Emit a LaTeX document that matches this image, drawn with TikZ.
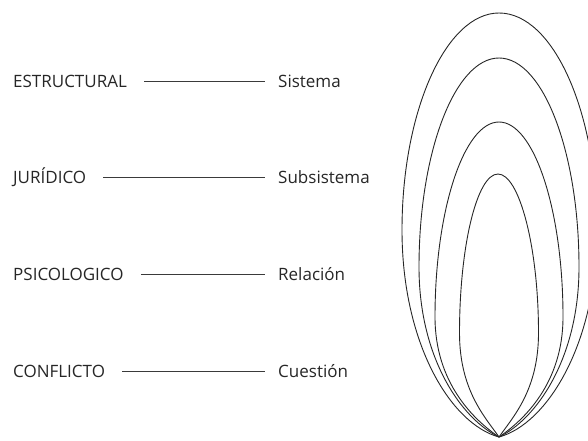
\documentclass[tikz,border=0pt]{standalone}
\usepackage{fontspec}
\setmainfont{Open Sans}
\definecolor{txt}{HTML}{262626}
\definecolor{ln}{HTML}{3a3a3a}
\begin{document}
\begin{tikzpicture}[x=1pt,y=1pt,
  lbl/.style={font=\fontsize{17}{19}\selectfont, text=txt, inner sep=0pt, anchor=west, text height=12.1pt, text depth=0pt},
  conn/.style={draw=ln, line width=0.9pt, shorten <=17pt, shorten >=13pt},
  loopline/.style={draw=black!85, line width=0.9pt}]
\useasboundingbox (0,0) rectangle (588,440);
\clip (0,0) rectangle (588,440);
% labels
\node[lbl] (e1) at (13,359) {ESTRUCTURAL};
\node[lbl] (s1) at (278,359) {Sistema};
\node[lbl] (e2) at (13,263) {JURÍDICO};
\node[lbl] (s2) at (278,263) {Subsistema};
\node[lbl] (e3) at (13,166) {PSICOLOGICO};
\node[lbl] (s3) at (278,166) {Relación};
\node[lbl] (e4) at (13,69) {CONFLICTO};
\node[lbl] (s4) at (278,69) {Cuestión};
\draw[conn] (e1.east) -- (s1.west);
\draw[conn] (e2.east) -- (s2.west);
\draw[conn] (e3.east) -- (s3.west);
\draw[conn] (e4.east) -- (s4.west);
% nested loops
\coordinate (B) at (499,3);
% outer
\draw[loopline] (B) .. controls (451,16) and (402,96) .. (402,210)
  .. controls (402,329) and (446,427) .. (499,427)
  .. controls (553,427) and (597,329) .. (597,210)
  .. controls (597,96) and (547,16) .. (B);
% second
\draw[loopline] (B) .. controls (463,20) and (419,80) .. (419,173)
  .. controls (419,288) and (455,382) .. (499,382)
  .. controls (543,382) and (579,288) .. (579,173)
  .. controls (579,80) and (535,20) .. (B);
% third
\draw[loopline] (B) .. controls (474,20) and (435,57) .. (435,123)
  .. controls (435,230) and (464,318) .. (499,318)
  .. controls (534,318) and (563,230) .. (563,123)
  .. controls (563,57) and (524,20) .. (B);
% fourth
\draw[loopline] (B) .. controls (485,23) and (459.5,50) .. (459.5,107)
  .. controls (459.5,194) and (477,266) .. (498,266)
  .. controls (519,266) and (538.5,194) .. (538.5,107)
  .. controls (538.5,50) and (513,23) .. (B);
\end{tikzpicture}
\end{document}
